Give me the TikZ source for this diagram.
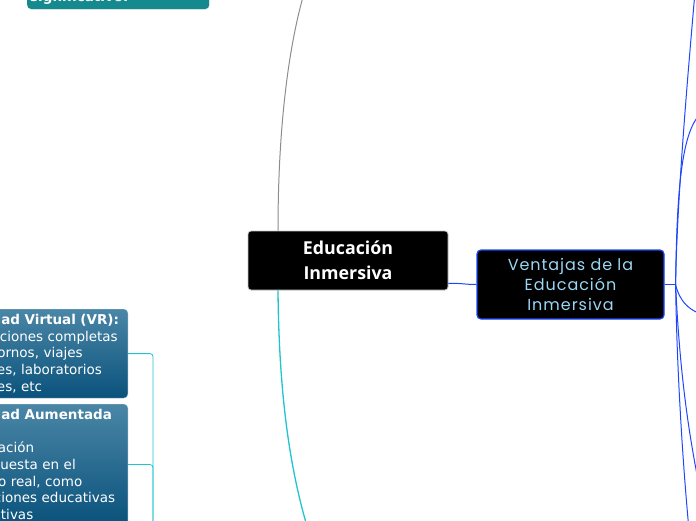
\documentclass[tikz,border=0pt]{standalone}
\usepackage{fontspec}
\setmainfont{DejaVu Sans}
\newfontfamily\rootfont{Open Sans}
\newfontfamily\ventfont[LetterSpace=6]{Poppins}
\usepackage{tikz}
\usetikzlibrary{positioning,calc,shadows}

\definecolor{mapblue}{RGB}{30,70,255}
\definecolor{mapcyan}{RGB}{30,196,206}
\definecolor{mapgrey}{RGB}{140,140,145}
\definecolor{tipotop}{RGB}{74,134,166}
\definecolor{tipobot}{RGB}{10,82,124}
\definecolor{ventext}{RGB}{155,214,243}
\definecolor{notefill}{RGB}{21,138,142}

\begin{document}
\begin{tikzpicture}[
  x=1pt,y=-1pt,
  rootbox/.style={rectangle,rounded corners=3pt,fill=black,draw=gray!45,line width=0.8pt,minimum width=200pt,minimum height=59pt,align=center,text=white,font=\rootfont\bfseries\fontsize{17.8}{25}\selectfont},
  ventbox/.style={rectangle,rounded corners=4pt,fill=black,draw=mapblue,line width=1.2pt,minimum width=187pt,minimum height=69pt,align=center,text=ventext,font=\ventfont\fontsize{16}{20}\selectfont},
  tipobox/.style={rectangle,rounded corners=4pt,top color=tipotop,bottom color=tipobot,draw=tipotop!70!white,line width=0.4pt,text=white,text width=168pt,align=left,inner xsep=6pt,inner ysep=5.3pt,font=\fontsize{13.5}{16.6}\selectfont},
  notebox/.style={rectangle,rounded corners=4pt,fill=notefill,drop shadow={opacity=0.15,shadow xshift=0.4pt,shadow yshift=-0.8pt},text=white,text width=176pt,align=left,inner xsep=3pt,inner ysep=3pt,text height=40pt,text depth=4.5pt,font=\bfseries\fontsize{13.5}{16.6}\selectfont},
  bluelink/.style={draw=mapblue,line width=1pt},
  cyanlink/.style={draw=mapcyan,line width=1.3pt},
  cyanthin/.style={draw=mapcyan,line width=0.8pt,rounded corners=3pt},
  greylink/.style={draw=mapgrey,line width=1pt},
]
\useasboundingbox (0,0) rectangle (696,520);
\clip (0,0) rectangle (696,520);

% Root and main branch
\node[rootbox] (edu) at (348,260.5) {Educación\\Inmersiva};
\node[ventbox] (ven) at (570.5,284.5) {Ventajas de la\\Educación\\Inmersiva};

% Left branch boxes
\node[notebox,anchor=base west] (sig) at (27,1.5) {significativo.};
\node[tipobox,anchor=north east] (vr) at (128,309) {\textbf{Realidad Virtual (VR):}\\Simulaciones completas\\de entornos, viajes\\virtuales, laboratorios\\virtuales, etc};
\node[tipobox,anchor=north east] (ar) at (128,404) {\textbf{Realidad Aumentada}\\\textbf{(AR):}\\Información\\superpuesta en el\\entorno real, como\\aplicaciones educativas\\interactivas};

% Free ends (off the page)
\coordinate (up) at (305,-10);
\coordinate (down) at (313,545);
\coordinate (tipos) at (153,545);
\coordinate (hub) at ($(ven.east)+(11,0)$);
\coordinate (v1) at (696,-20);
\coordinate (v2) at (710,108);
\coordinate (v3) at (710,316);
\coordinate (v4) at (700,490);
\coordinate (v5) at (690,540);

% Root connectors
\draw[greylink] ([xshift=-70pt]edu.north) .. controls (278,120) and (290,40) .. (up);
\draw[cyanlink] ([xshift=-70pt]edu.south) .. controls (279,400) and (291,480) .. (down);
\draw[bluelink] ([yshift=7pt]edu.south east) .. controls (462,283) and (464,284.5) .. (ven.west);

% Ventajas fan
\draw[bluelink] (ven.east) -- (hub);
\draw[bluelink] (hub) .. controls (677,190) and (691,40) .. (v1);
\draw[bluelink] (hub) .. controls (677,170) and (684,116) .. (v2);
\draw[bluelink] (hub) .. controls (679,300) and (689,313) .. (v3);
\draw[bluelink] (hub) .. controls (680,380) and (690,440) .. (v4);
\draw[bluelink] (hub) .. controls (677,380) and (684,480) .. (v5);

% Tipos bracket
\draw[cyanthin] (vr.east) -| (tipos);
\draw[cyanthin] (ar.east) -| (tipos);

\end{tikzpicture}
\end{document}
